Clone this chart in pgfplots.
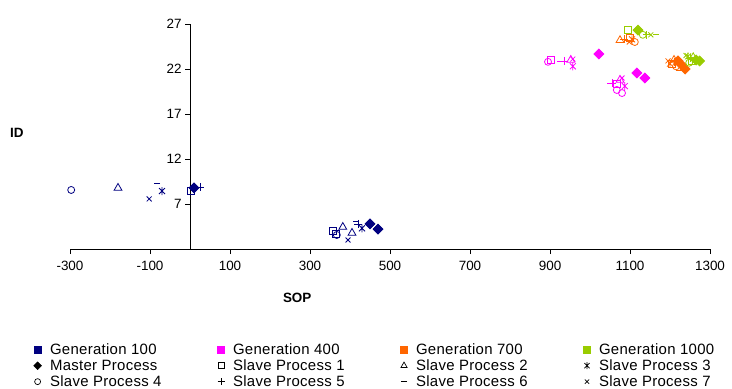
\documentclass[border=0pt]{standalone}
\usepackage{fontspec}
\setmainfont{Liberation Sans}
\usepackage{pgfplots}
\pgfplotsset{compat=1.18}
\usepackage{pgfplotstable}

\definecolor{genA}{HTML}{000080}
\definecolor{genB}{HTML}{FF00FF}
\definecolor{genC}{HTML}{FF6600}
\definecolor{genD}{HTML}{99CC00}

% square standing on its corner
\pgfdeclareplotmark{xdiamond}{%
  \pgfpathmoveto{\pgfqpoint{0pt}{1.3\pgfplotmarksize}}%
  \pgfpathlineto{\pgfqpoint{1.3\pgfplotmarksize}{0pt}}%
  \pgfpathlineto{\pgfqpoint{0pt}{-1.3\pgfplotmarksize}}%
  \pgfpathlineto{\pgfqpoint{-1.3\pgfplotmarksize}{0pt}}%
  \pgfpathclose\pgfusepathqfillstroke}
% vertical bar crossed by an x
\pgfdeclareplotmark{xstar}{%
  \pgfpathmoveto{\pgfqpoint{0pt}{\pgfplotmarksize}}%
  \pgfpathlineto{\pgfqpoint{0pt}{-\pgfplotmarksize}}%
  \pgfpathmoveto{\pgfqpoint{-.75\pgfplotmarksize}{.75\pgfplotmarksize}}%
  \pgfpathlineto{\pgfqpoint{.75\pgfplotmarksize}{-.75\pgfplotmarksize}}%
  \pgfpathmoveto{\pgfqpoint{-.75\pgfplotmarksize}{-.75\pgfplotmarksize}}%
  \pgfpathlineto{\pgfqpoint{.75\pgfplotmarksize}{.75\pgfplotmarksize}}%
  \pgfusepathqstroke}

% one table per generation: SOP, ID, process
\pgfplotstableread{
sop id proc
10 8.78 M
450 4.78 M
470 4.22 M
2 8.44 S1
357 4.00 S1
365 3.67 S1
-180 8.78 S2
382 4.44 S2
405 3.78 S2
-70 8.44 S3
430 4.30 S3
-297 8.56 S4
367 3.56 S4
25 8.89 S5
420 4.78 S5
-82 9.33 S6
415 5.10 S6
-102 7.56 S7
395 3.00 S7
}\tabA

\pgfplotstableread{
sop id proc
1022 23.67 M
1117 21.56 M
1137 21.00 M
902 23.00 S1
1067 20.33 S1
952 23.00 S2
1075 20.78 S2
957 22.30 S3
1087 20.10 S3
895 22.80 S4
1067 19.67 S4
1080 19.33 S4
935 22.90 S5
1055 20.44 S5
925 22.90 S6
1050 20.44 S6
957 23.10 S7
1080 21.00 S7
}\tabB

\pgfplotstableread{
sop id proc
1228 22.5 M
1238 22.0 M
1220 22.9 M
1100 25.5 S1
1205 22.6 S1
1075 25.2 S2
1210 23.0 S2
1105 25.3 S3
1200 22.6 S3
1112 25.0 S4
1215 22.3 S4
1085 25.3 S5
1212 22.8 S5
1092 25.2 S6
1222 21.8 S6
1195 22.9 S7
1098 25.0 S7
}\tabC

\pgfplotstableread{
sop id proc
1120 26.33 M
1265 23.0 M
1274 22.9 M
1095 26.33 S1
1255 22.9 S1
1258 23.3 S2
1245 23.4 S3
1132 25.8 S4
1248 22.7 S4
1142 25.8 S5
1250 23.2 S5
1165 25.8 S6
1268 23.3 S6
1152 25.8 S7
1240 23.5 S7
}\tabD

\pgfplotsset{
  procmarks/.style={
    only marks, forget plot, line width=0.8bp,
    scatter, scatter src=explicit symbolic,
    scatter/classes={
      M={mark=xdiamond, mark size=3.8bp, color=#1},
      S1={mark=square, mark size=3.5bp, color=#1},
      S2={mark=triangle, mark size=4.5bp, color=#1},
      S3={mark=xstar, mark size=4bp, color=#1},
      S4={mark=o, mark size=3.5bp, color=#1},
      S5={mark=+, mark size=4bp, color=#1},
      S6={mark=-, mark size=3bp, color=#1},
      S7={mark=x, mark size=3.5bp, color=#1}
    }
  }
}

\newcommand{\legtext}[1]{\makebox[166bp][l]{\addfontfeature{LetterSpace=2}#1}}

\begin{document}
\begin{tikzpicture}[x=1bp,y=1bp]
\useasboundingbox (0,0) rectangle (732,388);
\begin{axis}[
  at={(70bp,139bp)}, anchor=south west,
  scale only axis, width=640bp, height=225bp,
  xmin=-300, xmax=1300, ymin=2, ymax=27,
  xtick={-300,-100,...,1300}, ytick={2,7,...,27},
  axis x line=bottom, axis y line=center,
  axis line style={-, black, line width=0.8bp},
  tick style={black, line width=0.8bp},
  tick align=outside, major tick length=5bp,
  /pgf/number format/assume math mode=true,
  /pgf/number format/1000 sep={},
  tick label style={font=\fontsize{13.5}{15}\selectfont, black},
  x tick label style={yshift=-4bp},
  xlabel={\bfseries SOP}, ylabel={\bfseries ID},
  label style={font=\fontsize{13.5}{15}\selectfont},
  x label style={at={(axis description cs:0.355,-0.218)}, anchor=center},
  y label style={at={(axis description cs:-0.083,0.516)}, anchor=center, rotate=0},
  clip=false,
  legend columns=4, legend cell align=left,
  legend image code/.code={\draw[#1] plot coordinates {(0bp,0bp)};},
  legend style={at={(axis description cs:-0.057,-0.413)}, anchor=north west,
    draw=none, fill=none, inner sep=0pt, row sep=0.6bp,
    font=\fontsize{15}{16}\selectfont,
    nodes={inner sep=1.5bp},
    /tikz/every odd column/.append style={column sep=7bp}},
]
\addplot[procmarks=genA] table[x=sop, y=id, meta=proc] {\tabA};
\addplot[procmarks=genB] table[x=sop, y=id, meta=proc] {\tabB};
\addplot[procmarks=genC] table[x=sop, y=id, meta=proc] {\tabC};
\addplot[procmarks=genD] table[x=sop, y=id, meta=proc] {\tabD};

\addlegendimage{only marks, mark=square*, mark size=3.5bp, genA}
\addlegendentry{\legtext{Generation 100}}
\addlegendimage{only marks, mark=square*, mark size=3.5bp, genB}
\addlegendentry{\legtext{Generation 400}}
\addlegendimage{only marks, mark=square*, mark size=3.5bp, genC}
\addlegendentry{\legtext{Generation 700}}
\addlegendimage{only marks, mark=square*, mark size=3.5bp, genD}
\addlegendentry{\legtext{Generation 1000}}
\addlegendimage{only marks, mark=xdiamond, mark size=3bp, black}
\addlegendentry{\legtext{Master Process}}
\addlegendimage{only marks, mark=square, mark size=3bp, black, line width=0.7bp}
\addlegendentry{\legtext{Slave Process 1}}
\addlegendimage{only marks, mark=triangle, mark size=3.6bp, black, line width=0.7bp}
\addlegendentry{\legtext{Slave Process 2}}
\addlegendimage{only marks, mark=xstar, mark size=3.5bp, black, line width=0.7bp}
\addlegendentry{\legtext{Slave Process 3}}
\addlegendimage{only marks, mark=o, mark size=3bp, black, line width=0.7bp}
\addlegendentry{\legtext{Slave Process 4}}
\addlegendimage{only marks, mark=+, mark size=3.5bp, black, line width=0.7bp}
\addlegendentry{\legtext{Slave Process 5}}
\addlegendimage{only marks, mark=-, mark size=3bp, black, line width=0.9bp}
\addlegendentry{\legtext{Slave Process 6}}
\addlegendimage{only marks, mark=x, mark size=3bp, black, line width=0.7bp}
\addlegendentry{\legtext{Slave Process 7}}
\end{axis}
\end{tikzpicture}
\end{document}
